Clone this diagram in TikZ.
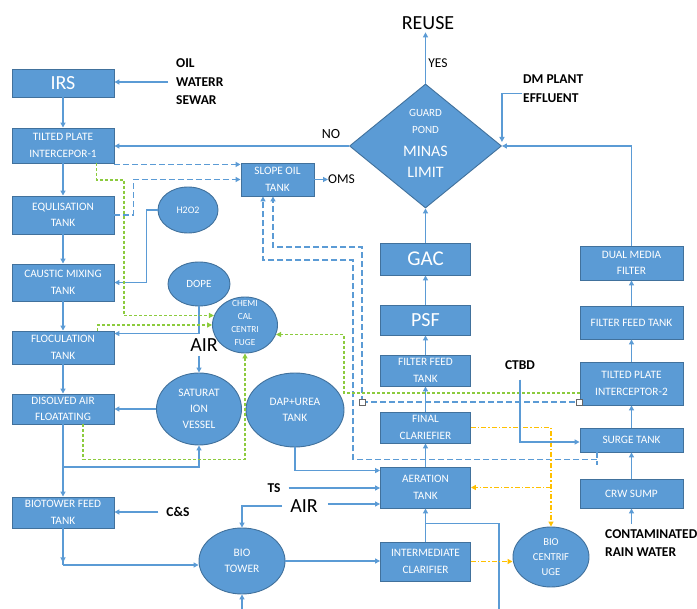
\documentclass[tikz,border=0pt]{standalone}
\usepackage{fontspec}
\setmainfont{Carlito}
\usetikzlibrary{arrows.meta,shapes.geometric}
\definecolor{boxblue}{HTML}{5B9BD5}
\definecolor{edgeblue}{HTML}{41719C}
\definecolor{lineblue}{HTML}{5B9BD5}
\definecolor{grn}{HTML}{8CCB3E}
\definecolor{orng}{HTML}{FFC000}
\newcommand\myfs[2]{\fontsize{#1}{#2}\selectfont}
\begin{document}
\begin{tikzpicture}[x=1pt,y=-1pt,
 box/.style={draw=edgeblue,fill=boxblue,text=white,line width=0.9pt,inner sep=0pt,align=center,font=\myfs{11.3}{16.5}},
 ell/.style={ellipse,draw=edgeblue,fill=boxblue,text=white,line width=0.9pt,inner sep=0pt,align=center,font=\myfs{11.4}{16}},
 lbl/.style={inner sep=0pt,text=black,align=left},
 blbl/.style={inner sep=0pt,text=black,align=left,font=\bfseries\myfs{13.5}{18.5}},
 arr/.style={draw=lineblue,line width=1.2pt,-{Triangle[length=5pt,width=5pt]}},
 ln/.style={draw=lineblue,line width=1.2pt},
 tip/.style={-{Triangle[length=5pt,width=5pt]}},
 dsh/.style={draw=lineblue,line width=1.4pt,dash pattern=on 6pt off 3pt},
 gdsh/.style={draw=grn,line width=1.4pt,dash pattern=on 3pt off 2pt},
 odsh/.style={draw=orng,line width=1.5pt,dash pattern=on 5pt off 2pt on 1.5pt off 2pt},
 sq/.style={draw=gray!80!black,fill=white,line width=0.8pt,minimum size=6pt,inner sep=0pt}
]
\useasboundingbox (0,0) rectangle (697,609);
\fill[white] (0,0) rectangle (697,609);

% ---------- left column boxes
\node[box,minimum width=102pt,minimum height=28pt] (irs) at (63,83) {\myfs{20}{20}IRS};
\node[box,minimum width=102pt,minimum height=35pt] (tpi1) at (63,145.5) {TILTED PLATE\\INTERCEPOR-1};
\node[box,minimum width=102pt,minimum height=38pt] (eq) at (63,215) {EQULISATION\\TANK};
\node[box,minimum width=102pt,minimum height=37pt] (caus) at (63,282.5) {CAUSTIC MIXING\\TANK};
\node[box,minimum width=102pt,minimum height=33pt] (floc) at (63,347.5) {FLOCULATION\\TANK};
\node[box,minimum width=102pt,minimum height=30pt] (daf) at (63,409) {DISOLVED AIR\\FLOATATING};
\node[box,minimum width=102pt,minimum height=31pt] (btf) at (63,512.5) {BIOTOWER FEED\\TANK};
\node[box,minimum width=73pt,minimum height=33pt] (slope) at (277.5,179.5) {SLOPE OIL\\TANK};

% ---------- centre column
\node[diamond,fill=boxblue,draw=edgeblue,line width=0.9pt,minimum width=152pt,minimum height=124pt,inner sep=0pt] (dia) at (425.5,146) {};
\node[inner sep=0pt,text=white,align=center,font=\myfs{11}{17}] (gp) at (425.5,121.5) {GUARD\\POND};
\node[inner sep=0pt,text=white,align=center,font=\myfs{16}{21}] (ml) at (425.5,161.5) {MINAS\\LIMIT};
\node[box,minimum width=90pt,minimum height=32pt] (gac) at (425.5,259) {\myfs{21}{21}GAC};
\node[box,minimum width=90pt,minimum height=30pt] (psf) at (425.5,320) {\myfs{20}{20}PSF};
\node[box,minimum width=90pt,minimum height=31pt] (fft) at (425.5,370.5) {FILTER FEED\\TANK};
\node[box,minimum width=90pt,minimum height=31pt] (fc) at (425.5,427.5) {FINAL\\CLARIEFIER};
\node[box,minimum width=90pt,minimum height=41pt] (aer) at (425.5,487.5) {AERATION\\TANK};
\node[box,minimum width=90pt,minimum height=39pt] (ic) at (425.5,561.5) {INTERMEDIATE\\CLARIFIER};

% ---------- right column
\node[box,minimum width=103pt,minimum height=34pt] (dmf) at (631.5,263) {DUAL MEDIA\\FILTER};
\node[box,minimum width=103pt,minimum height=33pt] (fft2) at (631.5,322.5) {FILTER FEED TANK};
\node[box,minimum width=103pt,minimum height=43pt] (tpi2) at (631.5,383.5) {TILTED PLATE\\INTERCEPTOR-2};
\node[box,minimum width=103pt,minimum height=24pt] (surge) at (631.5,440) {SURGE TANK};
\node[box,minimum width=103pt,minimum height=29pt] (crw) at (631.5,493.5) {CRW SUMP};

% ---------- ellipses
\node[ell,minimum width=60pt,minimum height=46pt,font=\myfs{10}{12}] (h2o2) at (188,210) {H2O2};
\node[ell,minimum width=62pt,minimum height=44pt,font=\myfs{11}{13}] (dope) at (199,284) {DOPE};
\node[ell,minimum width=65pt,minimum height=56pt] (chem) at (245,325) {};
\node[inner sep=0pt,text=white,align=center,font=\myfs{9.3}{13}] (chemT) at (245,323.5) {CHEMI\\CAL\\CENTRI\\FUGE};
\node[ell,minimum width=85pt,minimum height=72pt] (sat) at (199,409) {SATURAT\\ION\\VESSEL};
\node[ell,minimum width=98pt,minimum height=74pt] (dap) at (295,410) {DAP+UREA\\TANK};
\node[ell,minimum width=86pt,minimum height=66pt] (bt) at (242,561) {BIO\\TOWER};
\node[ell,minimum width=76pt,minimum height=60pt,font=\myfs{10.6}{15}] (bc) at (551,557) {BIO\\CENTRIF\\UGE};

% ---------- free labels
\node[blbl,anchor=west] (oil) at (176,82) {OIL\\WATERR\\SEWAR};
\node[lbl,font=\myfs{20}{20},anchor=base] (reuse) at (428,30) {REUSE};
\node[lbl,font=\myfs{13.5}{14}] (yes) at (438,63) {YES};
\node[lbl,font=\myfs{14}{14}] (no) at (331,134) {NO};
\node[blbl,anchor=west,font=\bfseries\myfs{13.5}{19}] (dm) at (523,88.5) {DM PLANT\\EFFLUENT};
\node[lbl,font=\myfs{13.5}{14},anchor=west] (oms) at (328,179.5) {OMS};
\node[lbl,font=\myfs{20}{20}] (air1) at (204,345) {AIR};
\node[lbl,font=\myfs{20}{20}] (air2) at (304,506) {AIR};
\node[blbl] (ts) at (274,488) {TS};
\node[blbl] (cs) at (178,512) {C\&S};
\node[blbl] (ctbd) at (520,365) {CTBD};
\node[blbl,anchor=west,font=\bfseries\myfs{13.5}{18}] (crwT) at (605,543) {CONTAMINATED\\RAIN WATER};
\coordinate (btin) at (242,609);
\coordinate (bend) at (499,609);

% ---------- left column connectors
\draw[arr] ([xshift=-8pt]oil.west) -- (irs.east |- oil.west);
\draw[arr] (irs) -- (tpi1);
\draw[arr] (tpi1) -- (eq);
\draw[arr] (eq) -- (caus);
\draw[arr] (caus) -- (floc);
\draw[arr] (floc) -- (daf);
\draw[arr] (daf) -- (btf);
\draw[arr] (daf.south |- 0,467) -| (sat.south);
\draw[ln] (btf.south) -- (btf.south |- 0,565);
\draw[arr] (btf.south) -- ++(0,34);
\draw[arr] (btf.south |- 0,565) -- (bt.west |- 0,565);
\draw[arr] ([xshift=-8pt]cs.west) -- (btf.east |- cs.west);
\draw[arr] (sat.west) -- (daf.east |- sat.west);
\draw[arr] (sat.north |- 0,356) -- (sat.north);
\draw[arr] (dope.south) |- ([yshift=-3pt]floc.north east);
\draw[arr] (h2o2.west) -- ++(-11,0) |- (caus.east);
\draw[arr] (dia.west) -- (dia.west -| tpi1.east);

% ---------- slope oil dashed lines
\draw[dsh,tip] ([yshift=-1pt]tpi1.south east) -- ([yshift=-1pt]tpi1.south east -| slope.west);
\draw[dsh,tip] (eq.east) -- ++(19,0) |- (slope.west);
\draw[arr] (slope.east) -- (oms.west);
\draw[dsh] ([xshift=-34.5pt]surge.south) -- ++(0,13);
\draw[dsh,tip] ([xshift=-34.5pt,yshift=-7pt]surge.south) -| (353,260) -| ([xshift=-14.5pt]slope.south);
\draw[dsh] (362,402) -- (579,402);
\draw[dsh,tip] (362,402) -- (362,247) -| ([xshift=-4.5pt]slope.south);
\node[sq] (sq1) at (362,402) {};
\node[sq] (sq2) at (579,402) {};

% ---------- green dashed lines
\draw[gdsh,tip] ([xshift=-18pt]tpi1.south east) |- (124,180) |- (chem.163);
\draw[gdsh,tip] ([xshift=-17pt]floc.north east) |- (chem.west);
\draw[gdsh,tip] ([xshift=20pt]daf.south) |- ([yshift=-106pt]chem.south) -- (chem.south);
\draw[gdsh,tip] ([yshift=-9.5pt]tpi2.west) -- (344,393) |- (chem.343);

% ---------- centre column connectors
\draw[arr] (ic) -- (aer);
\draw[arr] (aer) -- (fc);
\draw[arr] (fc) -- (fft);
\draw[arr] (fft) -- (psf);
\draw[arr] (psf) -- (gac);
\draw[arr] (gac) -- (dia.south);
\draw[arr] (dia.north) -- ([yshift=-2pt]dia.north |- reuse.south);
\draw[ln] ([yshift=-15pt]aer.south) -| (bend);
\draw[arr] (btin) -- (bt.south);
\draw[arr] (dap.south) |- ([yshift=-4pt]aer.north west);
\draw[arr] ([xshift=8pt]ts.east) -- (ts.east -| aer.west);
\draw[arr] ([xshift=10pt]air2.east |- 0,504) -- (aer.west |- 0,504);
\draw[arr] ([xshift=-8pt]air2.west) -| (bt.north);
\draw[arr] (bt.east) -- (bt.east -| ic.west);

% ---------- orange dash-dot
\draw[odsh,tip] (fc.east) -| (bc.north);
\draw[odsh,tip] (bc.north |- aer.east) -- (aer.east);
\draw[odsh,tip] (ic.east) -- (ic.east -| bc.west);

% ---------- right column connectors
\draw[arr] (crw.south |- 0,524) -- (crw.south);
\draw[arr] (crw) -- (surge);
\draw[arr] (surge) -- (tpi2);
\draw[arr] (tpi2) -- (fft2);
\draw[arr] (fft2) -- (dmf);
\draw[arr] (dmf.north) |- (dia.east);
\draw[arr] ([xshift=-1pt,yshift=-5pt]dm.west) -| ([yshift=4pt]dia.east);
\draw[arr] ([yshift=-10pt]ctbd.south) |- ([yshift=-2pt]surge.west);
\end{tikzpicture}
\end{document}
